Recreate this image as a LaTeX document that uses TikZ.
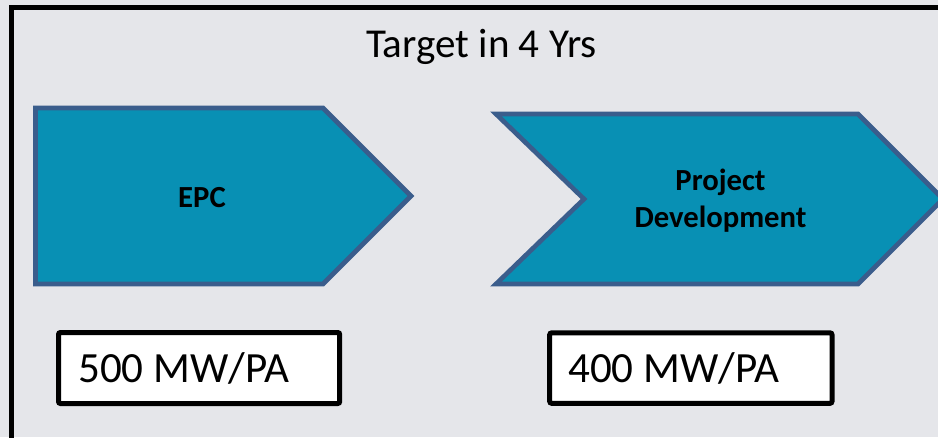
\documentclass[tikz,border=0pt]{standalone}
\usepackage{fontspec}
\setmainfont{Carlito}
\definecolor{paper}{HTML}{E5E6EA}
\definecolor{stagefill}{HTML}{0890B4}
\definecolor{stageline}{HTML}{3A5D8C}
\tikzset{
  stage/.style={fill=stagefill, draw=stageline, line width=3.5pt, line join=miter},
  stagelabel/.style={font=\bfseries\fontsize{23}{27.75}\selectfont, align=center, inner sep=0pt},
  valbox/.style={fill=white, draw=black, line width=3.75pt, rounded corners=1.5pt},
  valtext/.style={font=\fontsize{32.3}{39}\selectfont, inner sep=0pt, anchor=base west},
  frameline/.style={draw=black, line width=3.75pt}
}
\begin{document}
\begin{tikzpicture}[x=0.75pt, y=-0.75pt]
  % canvas
  \useasboundingbox (0,0) rectangle (938,437);
  \fill[paper] (0,0) rectangle (938,437);

  \begin{scope}
    \clip (0,0) rectangle (938,437);
    % outer frame, running off the right and bottom edges
    \draw[frameline] (11.5,7.5) rectangle (980,480);
    % process stages
    \draw[stage] (35.5,108) -- (323,108) -- (411,196) -- (323,284) -- (35.5,284) -- cycle;
    \draw[stage] (496,114) -- (858,114) -- (943,199) -- (858,284) -- (496,284) -- (584,199) -- cycle;
  \end{scope}

  \node (title) [font=\fontsize{30.8}{36}\selectfont, inner sep=0pt, anchor=base] at (481.5,57) {Target in 4 Yrs};

  \node (epc) [stagelabel, anchor=base] at (202,207) {EPC};
  \node (dev) [stagelabel, anchor=center] at (720.5,201) {Project\\Development};

  % yearly capacity targets
  \draw[valbox] (58.5,332.5) rectangle (339.7,403.5);
  \node (epcval) [valtext] at (78,382) {500 MW/PA};
  \draw[valbox] (549.7,332.8) rectangle (832,403.3);
  \node (devval) [valtext] at (568,382) {400 MW/PA};
\end{tikzpicture}
\end{document}
